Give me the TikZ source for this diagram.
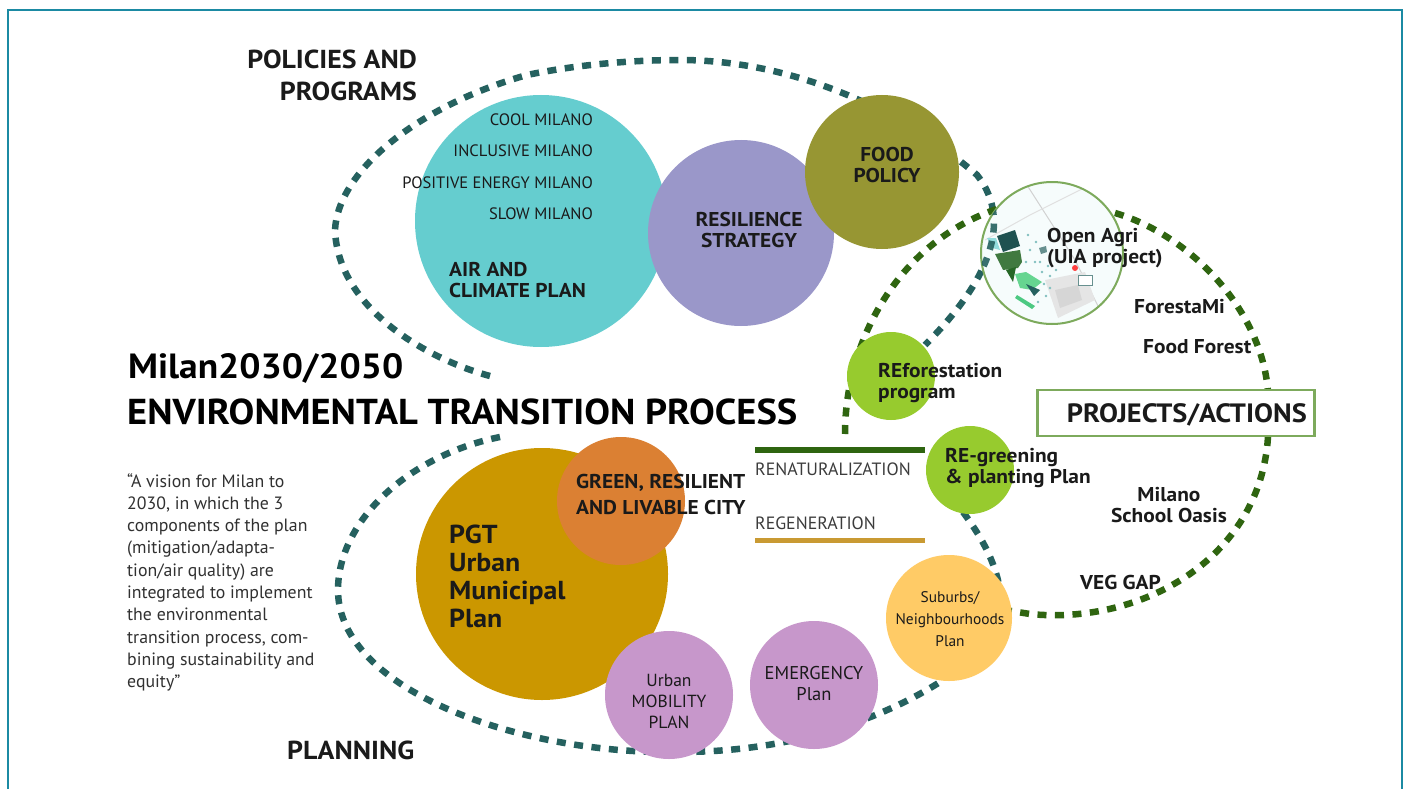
\documentclass[tikz,border=0pt]{standalone}
\usepackage{fontspec}
\setmainfont{Open Sans}
\newfontfamily\condf{PT Sans}
\newfontfamily\wideb[FakeStretch=1.07]{PT Sans}
\definecolor{tealdash}{HTML}{25615F}
\definecolor{greendash}{HTML}{2F6510}
\definecolor{frame}{HTML}{1B8AA3}
\definecolor{cteal}{HTML}{65CDCF}
\definecolor{cpurple}{HTML}{9A97C9}
\definecolor{cfood}{HTML}{979633}
\definecolor{cmap}{HTML}{7DAA5C}
\definecolor{clime}{HTML}{97CB2E}
\definecolor{cpgt}{HTML}{CB9700}
\definecolor{corange}{HTML}{DB8033}
\definecolor{cmauve}{HTML}{C797CB}
\definecolor{cyellow}{HTML}{FFCB66}
\definecolor{crule}{HTML}{C99A33}
\definecolor{ink}{HTML}{1A1A1A}
\tikzset{
 x=1pt,y=-1pt,
 tdash/.style={draw=tealdash,line width=6.5pt,dash pattern=on 9pt off 8.5pt},
 gdash/.style={draw=greendash,line width=6.5pt,dash pattern=on 9pt off 8.5pt},
 disc/.style={circle,inner sep=0pt,minimum size=#1,draw=none},
 lab/.style={font=\wideb\fontsize{20}{21.5}\selectfont\bfseries,text=ink,align=left,inner sep=0pt},
 labc/.style={lab,align=center},
 big/.style={font=\wideb\fontsize{26}{32}\selectfont\bfseries,text=ink,align=left,inner sep=0pt},
 mil/.style={font=\condf\fontsize{16.5}{18}\selectfont,text=ink,inner sep=0pt,anchor=east},
 thin/.style={font=\condf\fontsize{17.5}{21}\selectfont,text=ink,align=center,inner sep=0pt},
 rulelab/.style={font=\condf\fontsize{17.8}{18}\selectfont,text=ink!85,inner sep=0pt,anchor=west},
}
\begin{document}
\begin{tikzpicture}
\useasboundingbox (0,0) rectangle (1405,789);
\fill[white] (0,0) rectangle (1405,789);
\draw[frame,line width=2pt] (8,795) -- (8,10) -- (1402,10) -- (1402,795);
% dashed loops
\coordinate (pa) at (490,376);
\coordinate (pb) at (335,230);
\coordinate (pm) at (527,75);
\coordinate (pc) at (680,60);
\coordinate (pd) at (977,175);
\coordinate (pe) at (925,345);
\draw[tdash] (pa) .. controls (430,360) and (338,310) .. (pb)
 .. controls (338,170) and (420,105) .. (pm)
 .. controls (575,65) and (630,60) .. (pc)
 .. controls (780,60) and (890,100) .. (pd)
 .. controls (1005,210) and (1005,265) .. (pe);
\coordinate (qa) at (500,437);
\coordinate (qb) at (338,590);
\coordinate (qc) at (680,752);
\coordinate (qd) at (940,682);
\draw[tdash] (qa) .. controls (410,455) and (338,520) .. (qb)
 .. controls (338,690) and (520,755) .. (qc)
 .. controls (790,752) and (880,720) .. (qd);
\coordinate (qe) at (963,512);
\coordinate (qf) at (1000,590);
\draw[tdash] (qe) .. controls (980,535) and (995,560) .. (qf);
\coordinate (ga) at (845,434);
\coordinate (gb) at (1000,208);
\coordinate (gc) at (1268,392);
\coordinate (gd) at (1030,614);
\coordinate (ge) at (1115,213);
\coordinate (gf) at (1268,437);
\coordinate (gg) at (1005,610);
\draw[gdash] (ga) .. controls (845,340) and (900,240) .. (gb);
\draw[gdash] (ge) .. controls (1190,235) and (1262,310) .. (gc);
\draw[gdash] (gf) .. controls (1260,560) and (1140,625) .. (gd) -- (gg);
% discs
\node[disc=252pt,fill=cteal] (air) at (541,221) {};
\node[disc=186pt,fill=cpurple] (res) at (741,233) {};
\node[disc=154pt,fill=cfood] (food) at (882,172) {};
\node[disc=88pt,fill=clime] (ref) at (891,376) {};
\node[disc=88pt,fill=clime] (reg) at (970,470) {};
\node[disc=252pt,fill=cpgt] (pgt) at (542,574) {};
\node[disc=128pt,fill=corange] (grn) at (621,501) {};
\node[disc=128pt,fill=cmauve] (mob) at (669,695) {};
\node[disc=128pt,fill=cmauve] (eme) at (814,685) {};
\node[disc=126pt,fill=cyellow] (sub) at (949,618) {};
% map disc
\node[disc=142pt,fill=white!94!cteal] (map) at (1052,253) {};
\begin{scope}
\clip (1052,253) circle (71);
\draw[black!18,line width=1pt] (1025,182) -- (1075,260) -- (1110,330);
\draw[black!12,line width=1pt] (985,240) -- (1030,215) -- (1100,180);
\fill[black!10] (1045,280) -- (1085,272) -- (1095,300) -- (1058,318) -- cycle;
\fill[black!16] (1055,290) -- (1078,285) -- (1082,300) -- (1060,308) -- cycle;
\fill[tealdash!85!black] (997,236) -- (1015,230) -- (1020,246) -- (1003,252) -- cycle;
\fill[green!30!black!75] (995,254) -- (1020,250) -- (1022,262) -- (1018,268) -- (1003,270) -- cycle;
\fill[green!30!black!85] (1006,270) -- (1016,267) -- (1013,282) -- cycle;
\fill[teal!55!green!60] (1015,274) -- (1026,272) -- (1042,282) -- (1032,290) -- (1020,288) -- cycle;
\fill[tealdash] (1026,284) -- (1040,290) -- (1034,296) -- cycle;
\fill[teal!60!green!70] (1017,295) -- (1035,306) -- (1032,309) -- (1015,298) -- cycle;
\fill[cteal!70] (987,238) -- (996,238) -- (1000,250) -- (992,248) -- cycle;
\fill[tealdash!70] (1039,248) -- (1046,246) -- (1047,252) -- (1041,254) -- cycle;
\foreach \a/\b in {1028/235,1036/242,1030/250,1040/262,1048/266,1042/272,1050/276,1044/284,1035/262,1026/262,1056/270,1050/288,1046/296,1038/302}
  \fill[teal!50] (\a,\b) circle (1.4);
\fill[red!75] (1075,268) circle (3);
\draw[tealdash!70,fill=white,line width=.8pt] (1078,275) rectangle (1092,285);
\end{scope}
\draw[cmap,line width=2pt] (1052,253) circle (71);
% teal dashes seen through the map
\begin{scope}
\clip (1052,253) circle (71);
\draw[tdash,opacity=.9] (pd) .. controls (1005,210) and (1005,265) .. (pe);
\end{scope}
% rules
\coordinate (r1a) at (755,450); \coordinate (r1b) at (925,450);
\coordinate (r2a) at (755,540); \coordinate (r2b) at (925,540);
\draw[greendash,line width=5.5pt] (r1a) -- (r1b);
\draw[crule,line width=5pt] (r2a) -- (r2b);
% project box
\node[draw=cmap,line width=2.4pt,fill=white,minimum width=277pt,minimum height=46pt,inner sep=0pt] (box) at (1176,413) {};
\node[font=\wideb\fontsize{26.5}{28}\selectfont\bfseries,text=ink,inner sep=0pt,anchor=east] (boxt) at (1307,415) {PROJECTS/ACTIONS};
% labels
\node[big,align=right,anchor=north east] (pol) at (417,50) {POLICIES AND\\PROGRAMS};
\node[big,anchor=west] (plan) at (287,750) {PLANNING};
\node[font=\wideb\fontsize{35}{37}\selectfont\bfseries,text=black,inner sep=0pt,anchor=west] (t1) at (128,368) {Milan2030/2050};
\node[font=\wideb\fontsize{36}{37}\selectfont\bfseries,text=black,inner sep=0pt,anchor=west] (t2) at (127,412) {ENVIRONMENTAL TRANSITION PROCESS};
\node[mil] (m1) at (593,120) {COOL MILANO};
\node[mil] (m2) at (593,151) {INCLUSIVE MILANO};
\node[mil] (m3) at (593,183) {POSITIVE ENERGY MILANO};
\node[mil] (m4) at (593,214) {SLOW MILANO};
\node[lab,anchor=west] (airt) at (449,280) {AIR AND\\CLIMATE PLAN};
\node[labc] (rest) at (749,230) {RESILIENCE\\STRATEGY};
\node[labc] (foodt) at (887,165) {FOOD\\POLICY};
\node[lab,anchor=west] (mapt) at (1047,248) {Open Agri\\(UIA project)};
\node[lab,anchor=west] (fm) at (1134,307) {ForestaMi};
\node[lab,anchor=west] (ff) at (1143,347) {Food Forest};
\node[lab,anchor=west] (reft) at (878,383) {REforestation\\program};
\node[lab,anchor=west] (regt) at (945,468) {RE-greening\\\& planting Plan};
\node[lab,align=center,anchor=east] (mso) at (1227,505) {Milano\\School Oasis};
\node[lab,anchor=west] (veg) at (1080,582) {VEG GAP};
\node[rulelab] (rn) at (755,469) {RENATURALIZATION};
\node[rulelab] (rg) at (755,523) {REGENERATION};
\node[font=\wideb\fontsize{20}{26}\selectfont\bfseries,text=ink,align=left,inner sep=0pt,anchor=west] (grnt) at (576,494) {GREEN, RESILIENT\\AND LIVABLE CITY};
\node[font=\wideb\fontsize{26}{28}\selectfont\bfseries,text=ink,align=left,inner sep=0pt,anchor=west] (pgtt) at (449,576) {PGT\\Urban\\Municipal\\Plan};
\node[thin] (mobt) at (669,701) {Urban\\MOBILITY\\PLAN};
\node[font=\condf\fontsize{18.5}{21}\selectfont,text=ink,align=center,inner sep=0pt] (emet) at (814,684) {EMERGENCY\\Plan};
\node[font=\condf\fontsize{15.4}{22}\selectfont,text=ink,align=center,inner sep=0pt] (subt) at (950,619) {Suburbs/\\Neighbourhoods\\Plan};
\node[font=\condf\fontsize{17.8}{22.3}\selectfont,text=ink!90,align=left,inner sep=0pt,anchor=north west] (quote) at (127,473) {“A vision for Milan to\\2030, in which the 3\\components of the plan\\(mitigation/adapta-\\tion/air quality) are\\integrated to implement\\the environmental\\transition process, com-\\bining sustainability and\\equity”};
\end{tikzpicture}
\end{document}
